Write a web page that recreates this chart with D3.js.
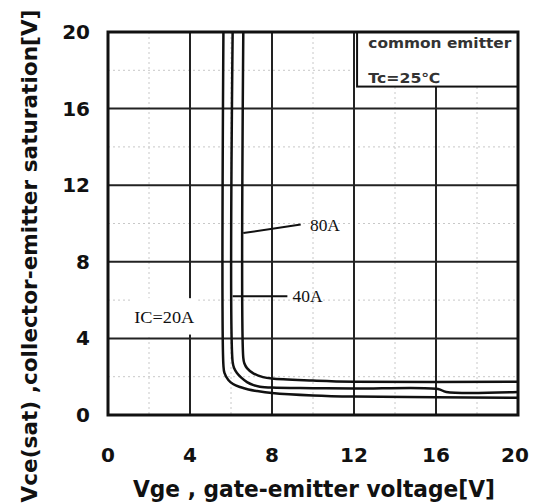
<!DOCTYPE html>
<html>
<head>
<meta charset="utf-8">
<script src="https://cdn.jsdelivr.net/npm/d3@7"></script>
<style>
  body { margin: 0; background: #fff; }
  svg { display: block; }
</style>
</head>
<body>
<div id="chart"></div>
<script>
// curve data: [Vge, Vce(sat)]
var curve20A = [[5.63, 20], [5.63, 2.6], [5.68, 2.2], [5.87, 1.83], [6.1, 1.62], [6.44, 1.46], [6.85, 1.33], [7.27, 1.25], [8, 1.15], [10, 1.02], [12, 0.96], [16, 0.93], [20, 0.9]];
var curve40A = [[6.08, 20], [6.08, 2.77], [6.15, 2.45], [6.29, 2.19], [6.5, 1.95], [6.78, 1.72], [7.1, 1.56], [7.41, 1.48], [8, 1.43], [10, 1.4], [12, 1.38], [16.1, 1.36], [16.5, 1.2], [20, 1.2]];
var curve80A = [[6.6, 20], [6.6, 2.98], [6.65, 2.7], [6.78, 2.45], [7.07, 2.19], [7.56, 1.98], [8, 1.9], [10, 1.8], [12, 1.74], [20, 1.74]];
var xTicks = [0, 4, 8, 12, 16, 20];
var yTicks = [0, 4, 8, 12, 16, 20];
var minorTicks = [2, 6, 10, 14, 18];

var width = 537, height = 504;
var margin = {top: 32, right: 19, bottom: 89, left: 108};
var w = width - margin.left - margin.right;
var h = height - margin.top - margin.bottom;

var svg = d3.select("#chart").append("svg").attr("width", width).attr("height", height);
var g = svg.append("g").attr("transform", "translate(" + margin.left + "," + margin.top + ")");

var x = d3.scaleLinear().domain([0, 20]).range([0, w]);
var y = d3.scaleLinear().domain([0, 20]).range([h, 0]);

// faint dotted minor grid
g.selectAll(".minx").data(minorTicks).enter().append("line")
	.attr("x1", d => x(d)).attr("x2", d => x(d)).attr("y1", 0).attr("y2", h)
	.attr("stroke", "#c8c8c8").attr("stroke-width", 1).attr("stroke-dasharray", "2,3");
g.selectAll(".miny").data(minorTicks).enter().append("line")
	.attr("y1", d => y(d)).attr("y2", d => y(d)).attr("x1", 0).attr("x2", w)
	.attr("stroke", "#c8c8c8").attr("stroke-width", 1).attr("stroke-dasharray", "2,3");

// major grid
g.selectAll(".majx").data(xTicks).enter().append("line")
	.attr("x1", d => x(d)).attr("x2", d => x(d)).attr("y1", 0).attr("y2", h)
	.attr("stroke", "#222").attr("stroke-width", 2);
g.selectAll(".majy").data(yTicks).enter().append("line")
	.attr("y1", d => y(d)).attr("y2", d => y(d)).attr("x1", 0).attr("x2", w)
	.attr("stroke", "#222").attr("stroke-width", 2);

// legend box (covers the grid)
g.append("rect").attr("x", x(12.15)).attr("y", 0).attr("width", w - x(12.15)).attr("height", y(17.15))
	.attr("fill", "#fff").attr("stroke", "#111").attr("stroke-width", 2);
g.append("text").attr("x", x(12.7)).attr("y", y(19.15)).text("common emitter")
	.attr("textLength", 143).attr("lengthAdjust", "spacingAndGlyphs")
	.style("font-family", "DejaVu Sans").style("font-size", "14px").style("font-weight", "bold").attr("fill", "#333");
g.append("text").attr("x", x(12.7)).attr("y", y(17.35)).text("Tc=25℃")
	.attr("textLength", 72).attr("lengthAdjust", "spacingAndGlyphs")
	.style("font-family", "DejaVu Sans").style("font-size", "14px").style("font-weight", "bold").attr("fill", "#333");

// outer frame
g.append("rect").attr("x", 0).attr("y", 0).attr("width", w).attr("height", h)
	.attr("fill", "none").attr("stroke", "#111").attr("stroke-width", 3);

// curves
var line = d3.line().x(d => x(d[0])).y(d => y(d[1])).curve(d3.curveCatmullRom.alpha(0.5));
[curve20A, curve40A, curve80A].forEach(function(c) {
	g.append("path").attr("d", line(c)).attr("fill", "none").attr("stroke", "#111")
		.attr("stroke-width", 2.5).attr("stroke-linejoin", "round");
});

// annotations
var labFont = "Liberation Serif";
g.append("rect").attr("x", x(1.1)).attr("y", y(6.1)).attr("width", x(4.4) - x(1.1)).attr("height", y(4.2) - y(6.1)).attr("fill", "#fff");
g.append("text").attr("x", x(1.28)).attr("y", y(4.8)).text("IC=20A")
	.attr("textLength", 60).attr("lengthAdjust", "spacingAndGlyphs")
	.style("font-family", labFont).style("font-size", "16px").attr("fill", "#111");

g.append("line").attr("x1", x(6.08)).attr("x2", x(8.75)).attr("y1", y(6.2)).attr("y2", y(6.2))
	.attr("stroke", "#111").attr("stroke-width", 2);
g.append("text").attr("x", x(9.0)).attr("y", y(5.9)).text("40A")
	.attr("textLength", 30).attr("lengthAdjust", "spacingAndGlyphs")
	.style("font-family", labFont).style("font-size", "16px").attr("fill", "#111");

g.append("line").attr("x1", x(6.6)).attr("x2", x(9.4)).attr("y1", y(9.5)).attr("y2", y(9.95))
	.attr("stroke", "#111").attr("stroke-width", 2);
g.append("text").attr("x", x(9.85)).attr("y", y(9.63)).text("80A")
	.attr("textLength", 30).attr("lengthAdjust", "spacingAndGlyphs")
	.style("font-family", labFont).style("font-size", "16px").attr("fill", "#111");

// tick labels
svg.selectAll(".xt").data(xTicks).enter().append("text")
	.attr("x", d => margin.left + x(d) - (d == 20 ? 3 : 0)).attr("y", 462)
	.attr("text-anchor", "middle").text(d => d)
	.style("font-family", "DejaVu Sans").style("font-size", "20px").style("font-weight", "bold").attr("fill", "#111");
svg.selectAll(".yt").data(yTicks).enter().append("text")
	.attr("x", 90).attr("y", d => margin.top + y(d) + 7)
	.attr("text-anchor", "end").text(d => d)
	.style("font-family", "DejaVu Sans").style("font-size", "20px").style("font-weight", "bold").attr("fill", "#111");

// axis titles
svg.append("text").attr("x", 314).attr("y", 497).attr("text-anchor", "middle")
	.text("Vge , gate-emitter voltage[V]")
	.attr("textLength", 362).attr("lengthAdjust", "spacingAndGlyphs")
	.style("font-family", "DejaVu Sans").style("font-size", "23px").style("font-weight", "bold").attr("fill", "#111");
svg.append("text").attr("transform", "translate(37,256) rotate(-90)").attr("text-anchor", "middle")
	.text("Vce(sat) ,collector-emitter saturation[V]")
	.attr("textLength", 493).attr("lengthAdjust", "spacingAndGlyphs")
	.style("font-family", "DejaVu Sans").style("font-size", "21px").style("font-weight", "bold").attr("fill", "#111");
</script>
</body>
</html>
